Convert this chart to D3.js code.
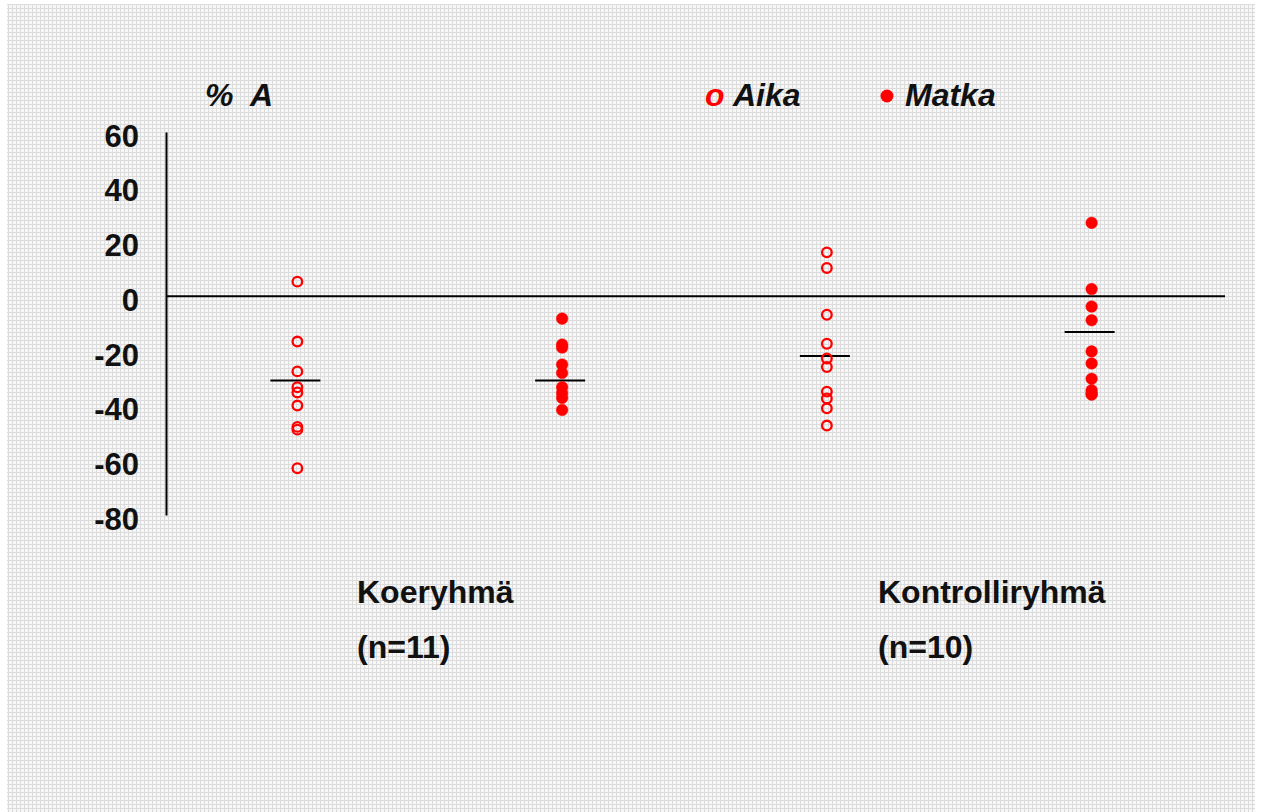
<!DOCTYPE html>
<html>
<head>
<meta charset="utf-8">
<script src="https://cdn.jsdelivr.net/npm/d3@7/dist/d3.min.js"></script>
<style>
  html, body { margin: 0; padding: 0; background: #ffffff; }
  svg { display: block; }
  text { font-family: "Liberation Sans", Arial, sans-serif; fill: #111; }
</style>
</head>
<body>
<svg id="chart" width="1261" height="812"></svg>
<script>
// Percentage change per subject (% A), by group and measure
const columns = ["koe-aika", "koe-matka", "kontrolli-aika", "kontrolli-matka"];
const koeAika = [5.3, -16.6, -27.5, -33.3, -35.2, -40.0, -47.8, -48.8, -62.9];
const koeMatka = [-8.2, -17.7, -18.8, -25.0, -28.1, -33.3, -35.4, -37.2, -41.6];
const kontrolliAika = [16.0, 10.3, -6.8, -17.4, -22.8, -25.9, -34.9, -37.4, -41.0, -47.3];
const kontrolliMatka = [26.8, 2.6, -3.8, -8.8, -20.2, -24.6, -30.2, -34.4, -35.6, -36.0];
const groupMeans = [-30.8, -30.8, -21.9, -13.1];
const openMarker = [true, false, true, false];
const yTicks = [60, 40, 20, 0, -20, -40, -60, -80];
const groupNames = ["Koeryhmä", "Kontrolliryhmä"];
const groupSizes = ["(n=11)", "(n=10)"];
const legendLabels = ["Aika", "Matka"];
const yTitle = "%  A";

const seriesValues = [koeAika, koeMatka, kontrolliAika, kontrolliMatka];

const svg = d3.select("#chart");
const red = "#ff0000";
const textSize = "32px";

// textured light-grey backdrop
const defs = svg.append("defs");
const pat = defs.append("pattern")
  .attr("id", "bgGrid").attr("patternUnits", "userSpaceOnUse")
  .attr("width", 4).attr("height", 4);
pat.append("rect").attr("width", 4).attr("height", 4).attr("fill", "#f7f7f7");
pat.append("rect").attr("x", 0).attr("y", 0).attr("width", 4).attr("height", 1).attr("fill", "#dcdcdc");
pat.append("rect").attr("x", 0).attr("y", 0).attr("width", 1).attr("height", 4).attr("fill", "#dcdcdc");
svg.append("rect").attr("x", 7).attr("y", 4).attr("width", 1248).attr("height", 808)
  .attr("fill", "url(#bgGrid)");

const axisX = 166;
const y = d3.scaleLinear().domain([-80, 60]).range([515, 132]);
const x = d3.scaleBand().domain(columns).range([165, 1224]);

// y axis: plain vertical line with bold labels, no tick marks
const yAxis = svg.append("g")
  .attr("transform", `translate(${axisX},0)`)
  .call(d3.axisLeft(y).tickValues(yTicks).tickSize(0).tickPadding(27)
    .tickFormat(d => String(d)));
yAxis.select(".domain").attr("stroke", "#000").attr("stroke-width", 2);
yAxis.selectAll("text")
  .attr("dy", "0.46em")
  .style("font-family", '"Liberation Sans", Arial, sans-serif')
  .style("font-size", "31px").style("font-weight", "bold").attr("fill", "#111");

// zero reference line
svg.append("line")
  .attr("x1", axisX).attr("x2", 1225)
  .attr("y1", y(0)).attr("y2", y(0))
  .attr("stroke", "#000").attr("stroke-width", 2);

// mean bars
svg.selectAll("line.mean").data(columns).join("line")
  .attr("class", "mean")
  .attr("x1", d => x(d) + x.bandwidth() / 2 - 27)
  .attr("x2", d => x(d) + x.bandwidth() / 2 + 23)
  .attr("y1", (d, i) => y(groupMeans[i]))
  .attr("y2", (d, i) => y(groupMeans[i]))
  .attr("stroke", "#000").attr("stroke-width", 2);

// individual points
columns.forEach((col, i) => {
  const cx = x(col) + x.bandwidth() / 2;
  svg.append("g").selectAll("circle").data(seriesValues[i]).join("circle")
    .attr("cx", cx)
    .attr("cy", d => y(d))
    .attr("r", openMarker[i] ? 4.8 : 5.8)
    .attr("fill", openMarker[i] ? "none" : red)
    .attr("stroke", red)
    .attr("stroke-width", openMarker[i] ? 2.3 : 0.5);
});

// y title and legend
const headerY = 106;
const italicBold = sel => sel.style("font-size", textSize)
  .style("font-weight", "bold").style("font-style", "italic");

svg.append("text").attr("x", 205).attr("y", headerY)
  .attr("xml:space", "preserve").call(italicBold).text(yTitle);

svg.append("text").attr("x", 705).attr("y", headerY)
  .call(italicBold).style("fill", red).text("o");
svg.append("text").attr("x", 733).attr("y", headerY)
  .call(italicBold).text(legendLabels[0]);
svg.append("circle").attr("cx", 887).attr("cy", 96).attr("r", 6.5).attr("fill", red);
svg.append("text").attr("x", 905).attr("y", headerY)
  .call(italicBold).text(legendLabels[1]);

// group captions below the plot
const groupLabelX = [357, 878];
groupNames.forEach((name, i) => {
  svg.append("text").attr("x", groupLabelX[i]).attr("y", 603)
    .style("font-size", textSize).style("font-weight", "bold").text(name);
  svg.append("text").attr("x", groupLabelX[i]).attr("y", 658)
    .style("font-size", textSize).style("font-weight", "bold").text(groupSizes[i]);
});
</script>
</body>
</html>
